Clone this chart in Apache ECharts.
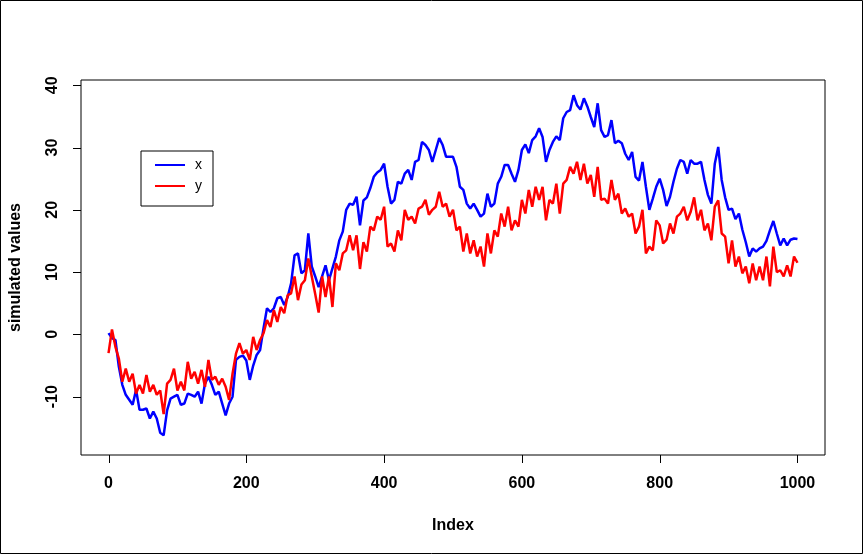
<!DOCTYPE html>
<html><head><meta charset="utf-8">
<script src="https://cdn.jsdelivr.net/npm/echarts@6/dist/echarts.min.js"></script>
<style>html,body{margin:0;padding:0;background:#fff}#c{width:863px;height:554px}</style>
</head><body><div id="c"></div>
<script>
const xValues = [
0.2,-0.6,-0.9,-5.2,-8.1,-9.7,-10.5,-11.3,-8.9,-12.1,-12.1,-11.9,-13.5,-12.4,-13.5,-15.8,-16.2,-12.2,-10.3,-10.0,
-9.7,-11.3,-11.1,-9.5,-9.7,-10.0,-9.2,-11.1,-7.9,-6.8,-8.1,-9.7,-9.2,-11.1,-13.0,-11.1,-10.0,-4.1,-3.6,-3.4,
-4.2,-7.3,-5.0,-3.3,-2.5,1.0,4.2,3.6,4.2,5.8,6.0,4.7,6.0,8.2,12.7,13.0,9.8,10.3,16.2,10.9,
9.3,7.6,9.3,11.1,8.7,10.6,12.5,15.1,16.5,20.0,21.0,20.8,22.1,17.5,21.5,22.0,23.5,25.3,26.0,26.4,
27.4,23.7,21.0,21.6,24.5,24.2,25.8,26.4,24.8,27.7,28.0,30.9,30.4,29.6,27.7,29.6,31.5,30.4,28.5,28.5,
28.5,26.9,23.7,23.2,21.0,20.2,21.0,20.0,18.9,19.4,22.6,20.5,21.0,24.2,25.3,27.2,27.2,25.8,24.5,26.4,
29.6,30.5,29.1,31.2,31.8,33.1,31.7,27.7,29.6,30.9,31.8,31.2,34.7,35.7,36.0,38.4,36.8,36.1,37.9,36.6,
34.9,33.3,37.1,32.8,31.7,32.0,34.4,30.7,31.1,30.7,29.0,28.0,29.3,25.3,24.7,27.7,23.7,20.0,21.8,23.7,
25.0,23.2,20.6,22.1,24.5,26.6,28.0,27.7,25.8,28.0,27.4,27.4,27.7,24.8,22.4,21.0,27.4,30.1,24.8,22.0,
20.0,20.2,18.5,19.4,16.8,14.8,12.5,13.8,13.3,13.8,14.1,15.0,16.7,18.2,16.2,14.3,15.4,14.3,15.2,15.4,
15.3
];
const yValues = [
-3.0,0.8,-2.0,-3.9,-7.6,-5.5,-7.6,-6.3,-9.5,-8.1,-9.5,-6.5,-9.2,-8.1,-9.7,-9.0,-12.8,-7.9,-7.3,-5.5,
-9.0,-7.6,-9.0,-4.4,-7.1,-6.0,-7.9,-5.7,-8.4,-4.1,-7.3,-6.8,-8.1,-7.1,-8.4,-10.5,-6.3,-3.1,-1.4,-3.1,
-2.5,-4.1,-0.4,-2.5,-0.9,0.2,2.3,1.2,3.9,2.0,4.4,3.4,6.3,6.6,9.3,5.5,8.0,8.7,12.2,9.3,
6.5,3.5,9.3,6.0,9.3,4.4,11.4,10.3,13.0,13.5,15.9,13.5,15.9,10.5,14.8,13.3,17.3,16.7,18.9,18.4,
20.5,14.1,14.6,13.3,16.7,15.1,20.0,18.4,18.9,17.8,20.2,20.5,21.6,19.2,20.0,20.5,22.9,20.5,21.0,18.9,
20.0,16.7,17.3,13.3,16.2,13.0,15.1,12.5,14.1,10.9,16.2,13.0,16.7,15.7,19.4,17.3,20.5,16.7,18.3,17.3,
21.6,19.4,23.2,20.5,23.7,21.6,23.7,18.3,21.6,21.0,24.2,19.4,24.2,24.8,26.9,25.8,27.7,24.8,27.4,24.2,
25.6,22.1,26.9,21.6,21.8,21.0,24.8,21.6,22.6,19.4,20.2,18.9,19.4,16.2,17.3,20.0,13.0,14.1,13.5,18.3,
17.5,14.6,15.2,17.8,16.2,18.9,19.4,20.5,18.3,19.7,22.0,18.3,20.0,16.7,17.8,15.1,20.5,21.5,16.2,15.7,
11.4,15.1,10.9,12.5,9.8,10.9,8.2,11.4,8.7,10.9,8.7,12.5,7.7,14.1,10.0,10.3,9.3,11.1,9.3,12.5,
11.5
];
const xTicks = [0, 200, 400, 600, 800, 1000];
const yTicks = [-10, 0, 10, 20, 30, 40];
const xRange = [-39.96, 1039.96];
const yRange = [-19.36, 40.84];
const sampleStep = 5;
const indexValues = xValues.map((_, i) => i * sampleStep);

const font = "'Liberation Sans', Arial, sans-serif";
const labelStyle = {color: '#000', fontSize: 16, fontWeight: 'bold', fontFamily: font};

const chart = echarts.init(document.getElementById('c'), null, {renderer: 'canvas'});
chart.setOption({
  animation: false,
  backgroundColor: '#fff',
  grid: {left: 79, right: 38, top: 80, bottom: 99, show: true, borderColor: '#000', borderWidth: 1, backgroundColor: 'transparent'},
  xAxis: {
    type: 'value', min: xRange[0], max: xRange[1],
    splitLine: {show: false},
    axisLine: {show: false, onZero: false},
    axisTick: {show: false},
    axisLabel: Object.assign({customValues: xTicks, margin: 21, formatter: v => String(v)}, labelStyle),
    name: 'Index', nameLocation: 'middle', nameGap: 63,
    nameTextStyle: labelStyle
  },
  yAxis: {
    type: 'value', min: yRange[0], max: yRange[1],
    splitLine: {show: false},
    axisLine: {show: false, onZero: false},
    axisTick: {show: false},
    axisLabel: Object.assign({customValues: yTicks, margin: 20, rotate: 90, formatter: v => String(v)}, labelStyle),
    name: 'simulated values', nameLocation: 'middle', nameGap: 57, nameRotate: 90,
    nameTextStyle: labelStyle
  },
  legend: {
    data: ['x', 'y'], orient: 'vertical', left: 141, top: 151,
    borderColor: '#000', borderWidth: 1, borderRadius: 0,
    padding: [7, 11, 13, 14], itemWidth: 30, itemHeight: 2, itemGap: 7,
    icon: 'rect', selectedMode: false,
    textStyle: {color: '#000', fontSize: 14, fontFamily: font, padding: [0, 0, 0, 5]}
  },
  series: [
    {name: 'x', type: 'line', data: indexValues.map((d, i) => [d, xValues[i]]),
     showSymbol: false, symbol: 'none', color: '#0000ff',
     lineStyle: {width: 2.5, color: '#0000ff'}},
    {name: 'y', type: 'line', data: indexValues.map((d, i) => [d, yValues[i]]),
     showSymbol: false, symbol: 'none', color: '#ff0000',
     lineStyle: {width: 2.5, color: '#ff0000'}}
  ]
});

// tick marks: positions come from the axis scales via convertToPixel, 8px outside the box
const tickEls = [];
xTicks.forEach(v => {
  const p = chart.convertToPixel({gridIndex: 0}, [v, yRange[0]]);
  const x = Math.round(p[0]) + 0.5, y = Math.round(p[1]);
  tickEls.push({type: 'line', silent: true, z: 50,
    shape: {x1: x, y1: y, x2: x, y2: y + 8}, style: {stroke: '#000', lineWidth: 1}});
});
yTicks.forEach(v => {
  const p = chart.convertToPixel({gridIndex: 0}, [xRange[0], v]);
  const x = Math.round(p[0]), y = Math.round(p[1]) + 0.5;
  tickEls.push({type: 'line', silent: true, z: 50,
    shape: {x1: x, y1: y, x2: x - 8, y2: y}, style: {stroke: '#000', lineWidth: 1}});
});
tickEls.push({
  type: 'rect', silent: true, z: 100,
  shape: {x: 0.5, y: 0.5, width: 862, height: 553},
  style: {fill: null, stroke: '#000', lineWidth: 1}
});
chart.setOption({graphic: tickEls});
</script></body></html>
